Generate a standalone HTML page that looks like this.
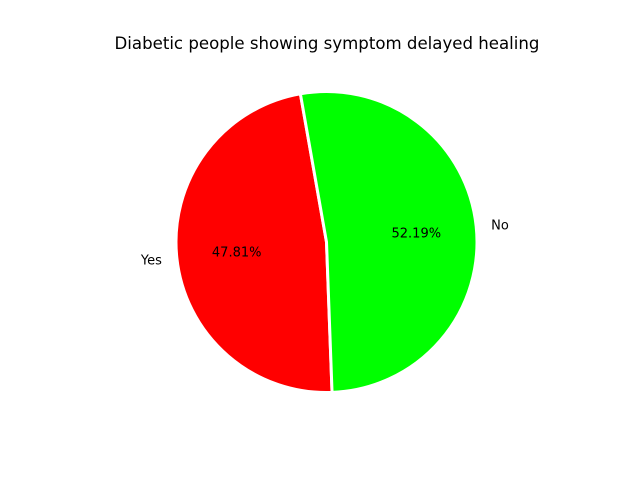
<!DOCTYPE html>
<html><head><meta charset="utf-8"><style>
body{margin:0;background:#fff;}
svg{display:block;font-family:"DejaVu Sans","Liberation Sans",sans-serif;}
</style></head><body>
<svg id="chart" width="640" height="480" viewBox="0 0 640 480">
<rect width="640" height="480" fill="#fff"/>
<text x="327" y="49" text-anchor="middle" font-size="16.6" fill="#000">Diabetic people showing symptom delayed healing</text>
<g id="slices"></g>
</svg>
<script>
const labels = ["Yes", "No"];
const values = [47.81, 52.19];
const colors = ["#ff0000", "#00ff00"];
const startAngle = 100;
const cx = 326.5, cy = 242, r = 150.5;
const ns = "http://www.w3.org/2000/svg";
const g = document.getElementById("slices");
const total = values.reduce((a,b)=>a+b,0);
function pt(deg, rad){const a=deg*Math.PI/180;return [cx+rad*Math.cos(a), cy-rad*Math.sin(a)];}
let ang = startAngle;
values.forEach((v,i)=>{
  const sweep = v/total*360;
  const a0 = ang, a1 = ang+sweep;
  const p0 = pt(a0,r), p1 = pt(a1,r);
  const large = sweep>180?1:0;
  const path = document.createElementNS(ns,"path");
  path.setAttribute("d",`M${cx},${cy} L${p0[0]},${p0[1]} A${r},${r} 0 ${large} 0 ${p1[0]},${p1[1]} Z`);
  path.setAttribute("fill",colors[i]);
  path.setAttribute("stroke","#fff");
  path.setAttribute("stroke-width","3");
  path.setAttribute("stroke-linejoin","round");
  
  
  g.appendChild(path);
  const mid = (a0+a1)/2;
  const lp = pt(mid, r*1.1);
  const cosm = Math.cos(mid*Math.PI/180);
  const lt = document.createElementNS(ns,"text");
  lt.setAttribute("x",lp[0]); lt.setAttribute("y",lp[1]+5);
  lt.setAttribute("text-anchor", cosm<0?"end":"start");
  lt.setAttribute("font-size","13");
  lt.textContent = labels[i];
  
  
  g.appendChild(lt);
  const pp = pt(mid, r*0.6);
  const pc = document.createElementNS(ns,"text");
  pc.setAttribute("x",pp[0]); pc.setAttribute("y",pp[1]+5);
  pc.setAttribute("text-anchor","middle");
  pc.setAttribute("font-size","13");
  pc.textContent = v.toFixed(2)+"%";
  
  
  g.appendChild(pc);
  ang = a1;
});
</script>
</body></html>
